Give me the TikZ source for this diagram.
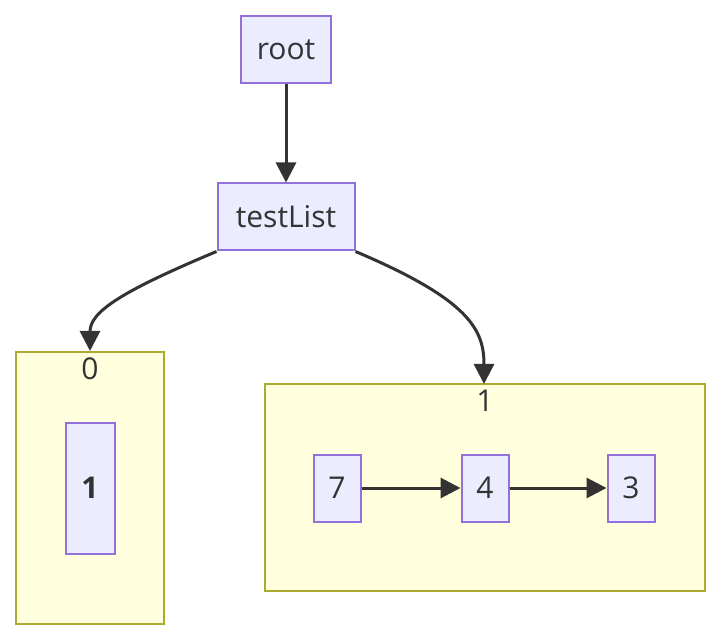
\documentclass[tikz,border=0pt]{standalone}
\usepackage{fontspec}
\setmainfont{Open Sans}
\usetikzlibrary{arrows.meta,positioning}
\definecolor{nodefill}{HTML}{ECECFF}
\definecolor{nodeedge}{HTML}{9370DB}
\definecolor{clusterfill}{HTML}{FFFFDE}
\definecolor{clusteredge}{HTML}{AAAA33}
\definecolor{linkcol}{HTML}{333333}

\begin{document}
\begin{tikzpicture}[
  x=0.5pt, y=-0.5pt,
  font=\fontsize{15}{18}\selectfont,
  >={Triangle[length=10pt,width=10pt]},
  every node/.style={text=linkcol},
  item/.style={
      rectangle, draw=nodeedge, line width=1pt,
      fill=nodefill, inner sep=0pt,
      minimum width=23.5pt, minimum height=33.5pt
  },
  cluster/.style={
      rectangle, draw=clusteredge, line width=1pt,
      fill=clusterfill, inner sep=0pt
  },
  link/.style={->, draw=linkcol, line width=1.5pt}
]
\useasboundingbox (0,0) rectangle (721,640);

% clusters
\node[cluster, minimum width=74pt,  minimum height=136pt]   (list0) at (90,488)    {};
\node[cluster, minimum width=220pt, minimum height=103.5pt] (list1) at (485,487.5) {};
\node[below=0pt of list0.north] {0};
\node[below=0pt of list1.north] {1};

% nodes
\node[item, minimum width=45pt]                       (root)     at (286,50)  {root};
\node[item, minimum width=68.5pt]                     (testList) at (286,217) {testList};
\node[item, minimum width=24.5pt, minimum height=65.5pt,
      font=\fontsize{15}{18}\selectfont\bfseries]     (one)      at (90,488)  {1};
\node[item]                                           (seven)    at (337,488) {7};
\node[item]                                           (four)     at (485,488) {4};
\node[item]                                           (three)    at (631,488) {3};

% links
\draw[link] (root) -- (testList);
\draw[link] (testList.south west) .. controls (120,292) and (90,312) .. (list0.north);
\draw[link] (testList.south east) .. controls (470,300) and (484,330) .. (484,384);
\draw[link] (seven) -- (four);
\draw[link] (four) -- (three);

\end{tikzpicture}
\end{document}
